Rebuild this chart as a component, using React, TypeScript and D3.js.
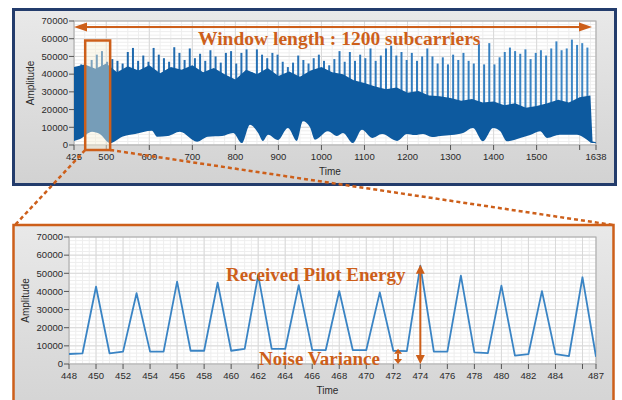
import React from 'react';
import * as d3 from 'd3';

// ---- Overview panel: 1200-subcarrier window ----
const overviewTicks = [425, 500, 600, 700, 800, 900, 1000, 1100, 1200, 1300, 1400, 1500, 1638];
const overviewUnlabeledTicks = [1600];
const amplitudeTicks = [0, 10000, 20000, 30000, 40000, 50000, 60000, 70000];

// lower envelope of the signal (noise floor between pilots)
const floorTime = [425, 439, 467, 485, 509, 537, 567, 606, 618, 643, 671, 711, 736, 769, 795, 815, 834, 853, 864, 876, 899, 922, 943, 957, 973, 985, 1015, 1036, 1050, 1073, 1094, 1118, 1141, 1176, 1199, 1217, 1236, 1257, 1276, 1303, 1329, 1352, 1375, 1399, 1415, 1431, 1462, 1485, 1508, 1524, 1554, 1594, 1617, 1629, 1638];
const floorAmp = [2300, 3400, 7500, 6200, 1100, 4700, 6200, 8100, 4700, 5100, 7500, 1900, 4700, 5100, 6800, 1100, 11500, 6800, 2300, 5800, 2800, 9600, 2300, 13400, 10200, 3000, 7700, 5100, 6800, 1100, 8600, 4000, 6200, 2300, 6200, 5600, 6200, 4500, 5100, 5600, 6800, 9600, 2100, 9600, 7900, 2100, 4000, 5600, 7700, 4000, 5800, 5800, 3000, 1100, 1000];

// top of the densely filled body of the trace
const bodyTime = [425, 450, 475, 500, 525, 550, 575, 600, 625, 650, 675, 700, 725, 750, 775, 800, 825, 850, 875, 900, 925, 950, 975, 1000, 1025, 1050, 1075, 1100, 1125, 1150, 1175, 1200, 1225, 1250, 1275, 1300, 1325, 1350, 1375, 1400, 1425, 1450, 1475, 1500, 1525, 1550, 1575, 1600, 1625, 1630, 1638];
const bodyAmp = [44000, 45500, 43000, 46000, 41000, 44500, 42000, 45000, 40500, 44000, 42500, 45000, 41000, 43500, 40000, 37000, 42500, 40000, 43500, 39000, 41500, 38500, 42000, 44000, 41000, 40000, 36500, 35000, 33000, 31500, 32500, 29500, 30500, 28000, 27500, 26500, 25000, 26000, 24000, 24500, 22500, 23500, 21000, 22000, 23500, 25500, 24000, 27000, 28000, 2000, 1500];

// pilot peaks, one every 12 subcarriers starting at 430
const pilotPeak = [
  44000, 45500, 43000, 48000, 51000, 53000, 47000, 48500, 47500, 46000,
  52500, 54800, 47500, 50500, 47000, 54800, 51000, 49000, 47000, 55200,
  52000, 48000, 54500, 49000, 51500, 47500, 53500, 50000, 46500, 52000,
  53000, 46000, 52000, 54000, 41000, 54000, 51000, 49000, 52000, 51000,
  47000, 44000, 46500, 50500, 48000, 46000, 49000, 51000, 47500, 45000,
  48500, 53000, 47000, 52500, 47500, 51000, 49000, 54500, 47500, 50500,
  54500, 56000, 50500, 52500, 48000, 52000, 47500, 50000, 54500, 50000,
  46000, 49500, 45500, 51000, 48000, 52000, 47500, 46000, 57500, 45500,
  57500, 45500, 49500, 52500, 55000, 53000, 51500, 54000, 48500, 52000,
  53500, 50500, 54500, 58500, 53500, 54500, 59500, 56500, 57500, 55000,
];
const pilotTime = d3.range(pilotPeak.length).map((i) => 430 + i * 12);

// ---- Zoomed panel: subcarriers 448..487 ----
const zoomTicks = [448, 450, 452, 454, 456, 458, 460, 462, 464, 466, 468, 470, 472, 474, 476, 478, 480, 482, 484, 487];
const zoomUnlabeledTicks = [486];
const zoomTime = d3.range(448, 488);
const zoomAmp = [5500, 5900, 42600, 5900, 6800, 39000, 6800, 6800, 45400, 7300, 7300, 44800, 7300, 8300, 49000, 8300, 8300, 43500, 7800, 7700, 40200, 7700, 7700, 39500, 7300, 7100, 54200, 6800, 6800, 48700, 6400, 6000, 43200, 4600, 5500, 40200, 5500, 4400, 47800, 4000];

const ORANGE = '#cd5f1a';
const NAVY = '#233c6c';
const TICK_FONT = "'Liberation Sans', Arial, sans-serif";
const SERIF = "'Liberation Serif', 'Times New Roman', serif";

type Scale = d3.ScaleLinear<number, number>;

function PlotFrame({ x, y, xMinorStep, yMinorStep, ticks, unlabeled, label }: {
  x: Scale; y: Scale; xMinorStep: number; yMinorStep: number;
  ticks: number[]; unlabeled: number[]; label: string;
}) {
  const [x0, x1] = x.range();
  const [y0, y1] = y.range(); // y0 bottom, y1 top
  const [d0, d1] = x.domain();
  const minorX = d3.range(Math.ceil(d0 / xMinorStep) * xMinorStep, d1, xMinorStep);
  const minorY = d3.range(0, 70000, yMinorStep);
  const majorX = ticks.concat(unlabeled);
  return (
    <g>
      <rect x={x0} y={y1} width={x1 - x0} height={y0 - y1} fill="#ffffff" />
      {minorX.map((v) => (
        <line key={'mx' + v} x1={x(v)} x2={x(v)} y1={y1} y2={y0} stroke="#eeeeee" strokeWidth={1} />
      ))}
      {minorY.map((v) => (
        <line key={'my' + v} x1={x0} x2={x1} y1={y(v)} y2={y(v)} stroke="#eeeeee" strokeWidth={1} />
      ))}
      {majorX.map((v) => (
        <line key={'gx' + v} x1={x(v)} x2={x(v)} y1={y1} y2={y0} stroke="#d9d9d9" strokeWidth={1} />
      ))}
      {amplitudeTicks.map((v) => (
        <line key={'gy' + v} x1={x0} x2={x1} y1={y(v)} y2={y(v)} stroke="#d9d9d9" strokeWidth={1} />
      ))}
      <rect x={x0} y={y1} width={x1 - x0} height={y0 - y1} fill="none" stroke="#a8a8a8" strokeWidth={1} />
      {/* y axis */}
      {amplitudeTicks.map((v) => (
        <g key={'yt' + v}>
          <line x1={x0 - 5} x2={x0} y1={y(v)} y2={y(v)} stroke="#555" strokeWidth={1} />
          <text x={x0 - 6} y={y(v)} dy="0.35em" textAnchor="end" fontSize={9.5} fill="#2a2a2a" fontFamily={TICK_FONT}>{v}</text>
        </g>
      ))}
      {/* x axis */}
      {majorX.map((v) => (
        <line key={'xt' + v} x1={x(v)} x2={x(v)} y1={y0} y2={y0 + 5} stroke="#555" strokeWidth={1} />
      ))}
      {ticks.map((v) => (
        <text key={'xl' + v} x={x(v)} y={y0 + 15} textAnchor="middle" fontSize={9.5} fill="#2a2a2a" fontFamily={TICK_FONT}>{v}</text>
      ))}
      <text x={(x0 + x1) / 2 - 5} y={y0 + 30} textAnchor="middle" fontSize={10} fill="#2a2a2a" fontFamily={TICK_FONT}>{label}</text>
      <text transform={`translate(${x0 - 40},${(y0 + y1) / 2}) rotate(-90)`} textAnchor="middle" fontSize={10} fill="#2a2a2a" fontFamily={TICK_FONT}>Amplitude</text>
    </g>
  );
}

function arrowHead(tx: number, ty: number, dir: 'l' | 'r' | 'u' | 'd', len: number, half: number) {
  if (dir === 'l') return `M${tx},${ty} L${tx + len},${ty - half} L${tx + len},${ty + half} Z`;
  if (dir === 'r') return `M${tx},${ty} L${tx - len},${ty - half} L${tx - len},${ty + half} Z`;
  if (dir === 'u') return `M${tx},${ty} L${tx - half},${ty + len} L${tx + half},${ty + len} Z`;
  return `M${tx},${ty} L${tx - half},${ty - len} L${tx + half},${ty - len} Z`;
}

export default function App() {
  // overview scales
  const xT = d3.scaleLinear().domain([425, 1638]).range([74, 596]);
  const yT = d3.scaleLinear().domain([0, 70000]).range([145, 21]);
  // zoom scales
  const xB = d3.scaleLinear().domain([448, 487]).range([69, 596]);
  const yB = d3.scaleLinear().domain([0, 70000]).range([364, 237]);

  const floorPts = floorTime.map((t, i) => [t, floorAmp[i]] as [number, number]);
  const bodyPts = bodyTime.map((t, i) => [t, bodyAmp[i]] as [number, number]);

  const floorLine = d3.line<[number, number]>().x((d) => xT(d[0])).y((d) => yT(d[1])).curve(d3.curveMonotoneX);
  const bodyLine = d3.line<[number, number]>().x((d) => xT(d[0])).y((d) => yT(d[1])).curve(d3.curveLinear);
  // body polygon: top edge left->right, then noise floor right->left
  const bodyPath = bodyLine(bodyPts)! + 'L' + floorLine(floorPts.slice().reverse())!.slice(1) + 'Z';

  const zoomLine = d3.line<number>().x((_, i) => xB(zoomTime[i])).y((d) => yB(d));

  const winX0 = xT(451);
  const winX1 = xT(509);
  const winY0 = yT(59000);
  const winY1 = yT(0) + 5;

  const arrowY = 27;
  const peakIdx = zoomTime.indexOf(474);
  const arrowX = xB(474);
  const noiseX = xB(472.35);

  return (
    <svg width={622} height={400} style={{ position: 'absolute', left: 0, top: 0 }}>
      <defs>
        <linearGradient id="panelBg" x1="0" y1="0" x2="0" y2="1">
          <stop offset="0" stopColor="#e9e9e9" />
          <stop offset="1" stopColor="#d2d2d2" />
        </linearGradient>
        <linearGradient id="pilotTone" gradientUnits="userSpaceOnUse" x1={74} y1={0} x2={596} y2={0}>
          <stop offset="0" stopColor="#1a64a8" />
          <stop offset="0.45" stopColor="#2a74b8" />
          <stop offset="1" stopColor="#3f88c6" />
        </linearGradient>
        <clipPath id="topPlot">
          <rect x={74} y={21} width={522} height={124} />
        </clipPath>
        <clipPath id="bottomPlot">
          <rect x={69} y={237} width={527} height={127} />
        </clipPath>
      </defs>
      <rect x={0} y={0} width={622} height={400} fill="#ffffff" />

      {/* overview panel */}
      <rect x={13.5} y={9.5} width={602} height={175} fill="url(#panelBg)" stroke={NAVY} strokeWidth={3} />
      <PlotFrame x={xT} y={yT} xMinorStep={25} yMinorStep={2000} ticks={overviewTicks} unlabeled={overviewUnlabeledTicks} label="Time" />
      <g clipPath="url(#topPlot)">
        {pilotTime.map((t, i) => (
          <line key={'p' + i} x1={xT(t)} x2={xT(t)} y1={yT(15000)} y2={yT(pilotPeak[i])} stroke="url(#pilotTone)" strokeWidth={2} />
        ))}
        <path d={bodyPath} fill="#0d5a9f" />
      </g>
      <rect x={winX0} y={winY0} width={winX1 - winX0} height={winY1 - winY0} fill="#f6f0d6" fillOpacity={0.45} stroke={ORANGE} strokeWidth={2.5} />

      {/* window-length arrow and caption */}
      <line x1={xT(425) + 8} x2={592 - 8} y1={arrowY} y2={arrowY} stroke={ORANGE} strokeWidth={2} />
      <path d={arrowHead(xT(425), arrowY, 'l', 13, 4.5)} fill={ORANGE} />
      <path d={arrowHead(592, arrowY, 'r', 13, 4.5)} fill={ORANGE} />
      <text x={198} y={45} fontFamily={SERIF} fontWeight="bold" fontSize={19.5} fill={ORANGE}>Window length : 1200 subcarriers</text>

      {/* zoomed panel */}
      <rect x={13.5} y={225} width={600} height={200} fill="url(#panelBg)" stroke={ORANGE} strokeWidth={2.5} />
      <PlotFrame x={xB} y={yB} xMinorStep={0.5} yMinorStep={2000} ticks={zoomTicks} unlabeled={zoomUnlabeledTicks} label="Time" />
      <g clipPath="url(#bottomPlot)">
        <path d={zoomLine(zoomAmp)!} fill="none" stroke="#3a84c4" strokeWidth={1.8} strokeLinejoin="round" />
      </g>

      <text x={226} y={281} fontFamily={SERIF} fontWeight="bold" fontSize={19} fill={ORANGE}>Received Pilot Energy</text>
      <text x={259} y={365} fontFamily={SERIF} fontWeight="bold" fontSize={19} fill={ORANGE}>Noise Variance</text>

      {/* pilot energy arrow */}
      <line x1={arrowX} x2={arrowX} y1={yB(zoomAmp[peakIdx]) + 6} y2={yB(0) - 6} stroke={ORANGE} strokeWidth={2} />
      <path d={arrowHead(arrowX, yB(zoomAmp[peakIdx]) - 1, 'u', 9, 4.5)} fill={ORANGE} />
      <path d={arrowHead(arrowX, yB(0), 'd', 9, 4.5)} fill={ORANGE} />
      {/* noise variance arrow */}
      <line x1={noiseX} x2={noiseX} y1={yB(zoomAmp[peakIdx - 2]) + 3} y2={yB(0) - 3} stroke={ORANGE} strokeWidth={2} />
      <path d={arrowHead(noiseX, yB(zoomAmp[peakIdx - 2]) - 2, 'u', 5, 4)} fill={ORANGE} />
      <path d={arrowHead(noiseX, yB(0), 'd', 5, 4)} fill={ORANGE} />

      {/* zoom connectors */}
      <line x1={winX0} y1={winY1} x2={15} y2={225} stroke={ORANGE} strokeWidth={2.5} strokeDasharray="4 3" />
      <line x1={winX1} y1={winY1} x2={613} y2={225} stroke={ORANGE} strokeWidth={2.5} strokeDasharray="4 3" />
    </svg>
  );
}
